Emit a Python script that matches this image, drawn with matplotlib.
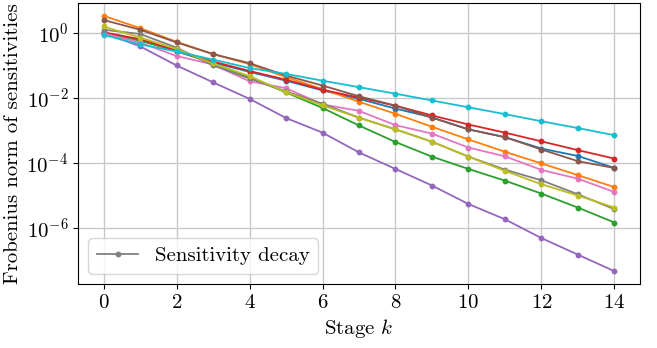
import numpy as np
import matplotlib
matplotlib.use("Agg")
import matplotlib.pyplot as plt
from matplotlib.lines import Line2D

plt.rcParams['font.family'] = 'serif'
plt.rcParams['font.serif'] = ['cmr10', 'DejaVu Serif']
plt.rcParams['mathtext.fontset'] = 'cm'
plt.rcParams['axes.formatter.use_mathtext'] = True

stages = list(range(15))

# log10 of Frobenius norm of sensitivities, per series
log_blue   = [0.01, -0.22, -0.57, -0.91, -1.20, -1.47, -1.77, -2.03, -2.33, -2.60, -2.97, -3.21, -3.56, -3.79, -4.16]
log_orange = [0.53, 0.15, -0.27, -0.65, -0.96, -1.36, -1.73, -2.12, -2.49, -2.89, -3.28, -3.66, -4.02, -4.38, -4.75]
log_green  = [0.01, -0.24, -0.54, -0.94, -1.37, -1.83, -2.31, -2.85, -3.36, -3.81, -4.19, -4.55, -4.95, -5.38, -5.84]
log_red    = [0.02, -0.19, -0.54, -0.88, -1.17, -1.44, -1.75, -1.99, -2.24, -2.54, -2.82, -3.07, -3.34, -3.61, -3.87]
log_purple = [0.00, -0.41, -1.00, -1.52, -2.03, -2.62, -3.07, -3.68, -4.19, -4.70, -5.27, -5.74, -6.32, -6.83, -7.34]
log_brown  = [0.40, 0.10, -0.29, -0.65, -0.93, -1.31, -1.62, -1.95, -2.24, -2.61, -2.97, -3.21, -3.59, -3.95, -4.16]
log_pink   = [-0.02, -0.29, -0.71, -0.97, -1.49, -1.70, -2.20, -2.40, -2.84, -3.10, -3.53, -3.80, -4.22, -4.49, -4.90]
log_gray   = [0.10, -0.03, -0.45, -1.00, -1.40, -1.80, -2.18, -2.61, -2.97, -3.35, -3.81, -4.21, -4.54, -4.97, -5.43]
log_olive  = [0.20, -0.14, -0.49, -0.94, -1.33, -1.82, -2.23, -2.61, -2.97, -3.35, -3.81, -4.25, -4.66, -5.01, -5.38]
log_cyan   = [-0.06, -0.35, -0.57, -0.82, -1.08, -1.26, -1.47, -1.67, -1.87, -2.08, -2.29, -2.50, -2.72, -2.93, -3.15]

series = [log_blue, log_orange, log_green, log_red, log_purple,
          log_brown, log_pink, log_gray, log_olive, log_cyan]
colors = ['tab:blue', 'tab:orange', 'tab:green', 'tab:red', 'tab:purple',
          'tab:brown', 'tab:pink', 'tab:gray', 'tab:olive', 'tab:cyan']

fig = plt.figure(figsize=(6.57, 3.48), dpi=100)
ax = fig.add_axes([78/657, 1 - 284/348, (640-78)/657, (284-3)/348])

for s, c in zip(series, colors):
    ax.plot(stages, np.power(10.0, s), color=c, marker='o', markersize=3.2, linewidth=1.3)

ax.set_yscale('log')
ax.set_xticks([0, 2, 4, 6, 8, 10, 12, 14])
ax.set_yticks([1e0, 1e-2, 1e-4, 1e-6])
ax.minorticks_off()
ax.grid(True, color='#c8c8c8', linewidth=1.0)
ax.set_axisbelow(True)
ax.tick_params(labelsize=15)
ax.set_xlabel('Stage $k$', fontsize=15)
ax.set_ylabel('Frobenius norm of sensitivities', fontsize=15, labelpad=3)

handle = Line2D([], [], color='gray', marker='o', markersize=3.2, linewidth=1.3)
ax.legend([handle], ['Sensitivity decay'], loc='lower left', fontsize=15,
          framealpha=0.8)

fig.savefig('out.png', dpi=100)
